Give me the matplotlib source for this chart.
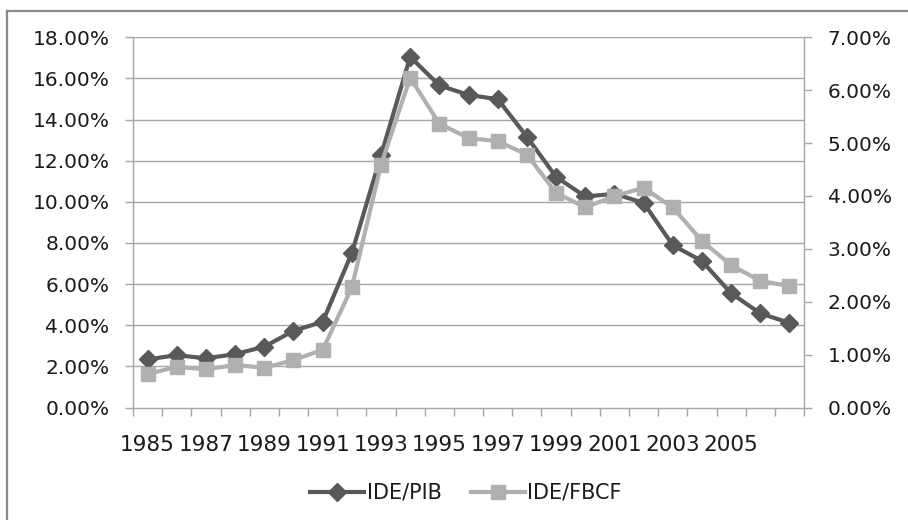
import numpy as np
import matplotlib.pyplot as plt
import matplotlib.transforms as mtransforms
from matplotlib.lines import Line2D
from matplotlib.ticker import FuncFormatter, MultipleLocator

# IDE em % do PIB (eixo direito) e em % da FBCF (eixo esquerdo)
years = list(range(1985, 2008))
ide_pib = [0.91, 0.99, 0.93, 1.01, 1.15, 1.45, 1.62, 2.92, 4.77, 6.63, 6.09, 5.91, 5.83,
           5.12, 4.36, 3.99, 4.04, 3.87, 3.07, 2.77, 2.16, 1.78, 1.60]
ide_fbcf = [1.63, 1.98, 1.86, 2.07, 1.93, 2.31, 2.80, 5.84, 11.80, 16.03, 13.80, 13.10, 12.95,
            12.30, 10.44, 9.73, 10.28, 10.68, 9.73, 8.10, 6.92, 6.16, 5.90]
xlabels = [str(y) if (y - 1985) % 2 == 0 and y < 2007 else '' for y in years]

plt.rcParams['font.family'] = ['DejaVu Sans']
grid_col = '#a6a6a6'
dark = '#595959'
light = '#b0b0b0'
txt = '#1a1a1a'
fs = 14.5

fig = plt.figure(figsize=(9.08, 5.2), dpi=100)
ax = fig.add_axes([0.1465, 0.2163, 0.739, 0.712])
ax2 = ax.twinx()

x = np.arange(len(years))

# left axis on top so the light series covers the dark one
ax.set_zorder(ax2.get_zorder() + 1)
ax.patch.set_visible(False)

ax2.plot(x, ide_pib, color=dark, lw=3, marker='D', ms=9.5, mec=dark, mfc=dark,
         label='IDE/PIB', clip_on=False)
ax.plot(x, ide_fbcf, color=light, lw=3, marker='s', ms=10, mec=light, mfc=light,
        label='IDE/FBCF', clip_on=False)

# gridlines from the left scale, drawn under both series
blend = mtransforms.blended_transform_factory(ax2.transAxes, ax.transData)
for v in np.arange(2, 19, 2):
    ax2.add_line(Line2D([0, 1], [v, v], transform=blend, color=grid_col, lw=1, zorder=0))

ax.set_xlim(-0.5, len(years) - 0.5)
ax.set_ylim(0, 18)
ax2.set_ylim(0, 7)
ax.yaxis.set_major_locator(MultipleLocator(2))
ax2.yaxis.set_major_locator(MultipleLocator(1))
pct = FuncFormatter(lambda v, p: f'{v:.2f}%')
ax.yaxis.set_major_formatter(pct)
ax2.yaxis.set_major_formatter(pct)

ax.set_xticks(x)
ax.set_xticklabels(xlabels)
ax.set_xticks(np.arange(-0.5, len(years)), minor=True)
ax.tick_params(axis='x', which='major', length=0, pad=20, labelsize=15.5, colors=txt)
ax.tick_params(axis='x', which='minor', length=6, width=1, color=grid_col)
ax.tick_params(axis='y', length=6, width=1, color=grid_col, pad=11, labelsize=fs,
               labelcolor=txt)
ax2.tick_params(axis='y', length=6, width=1, color=grid_col, pad=11, labelsize=fs,
                labelcolor=txt)

for a in (ax, ax2):
    a.spines['top'].set_visible(False)
    for s in ('left', 'right', 'bottom'):
        a.spines[s].set_color(grid_col)
        a.spines[s].set_linewidth(1)
ax.spines['right'].set_visible(False)
ax2.spines['left'].set_visible(False)
ax2.spines['bottom'].set_visible(False)

h1, l1 = ax2.get_legend_handles_labels()
h2, l2 = ax.get_legend_handles_labels()
leg = fig.legend(h1 + h2, l1 + l2, loc='center', bbox_to_anchor=(0.513, 0.052), ncol=2,
                 frameon=False, fontsize=15, handlelength=2.6, handletextpad=0.1,
                 columnspacing=1.4)
for t in leg.get_texts():
    t.set_color(txt)

# chart border (top and left edges)
fig.add_artist(Line2D([7 / 908, 1], [1 - 11 / 520, 1 - 11 / 520], transform=fig.transFigure,
                      color='#8a8a8a', lw=1.6))
fig.add_artist(Line2D([7 / 908, 7 / 908], [0, 1 - 11 / 520], transform=fig.transFigure,
                      color='#8a8a8a', lw=1.6))

fig.savefig('out.png', dpi=100)
